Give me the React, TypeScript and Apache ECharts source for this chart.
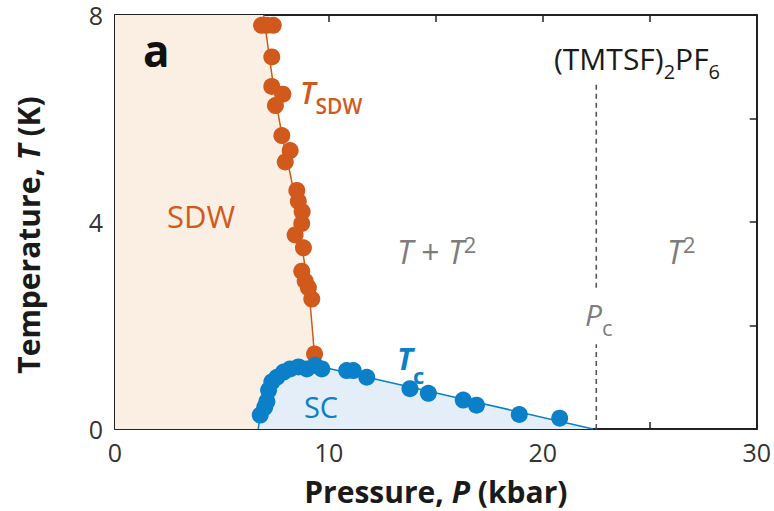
import React, { useEffect, useRef } from "react";
import * as echarts from "echarts";

// ---- data ----
const X_LABELED = [0, 10, 20, 30];
const Y_LABELED = [0, 4, 8];

// T_SDW measurements (pressure kbar, temperature K)
const TSDW_P = [6.85, 7.1, 7.4, 7.33, 7.33, 7.85, 7.5, 7.8, 8.19, 7.96, 8.5, 8.57, 8.75, 8.73, 8.42, 8.81, 8.73, 8.89, 9.04, 9.2, 9.33];
const TSDW_T = [7.8, 7.8, 7.8, 7.19, 6.62, 6.47, 6.25, 5.67, 5.38, 5.16, 4.61, 4.4, 4.2, 3.97, 3.75, 3.5, 3.05, 2.86, 2.73, 2.51, 1.45];

// T_SDW guide line
const TSDW_FIT_P = [6.95, 7.35, 7.8, 8.35, 8.75, 9.1, 9.35];
const TSDW_FIT_T = [8.0, 6.8, 5.7, 4.6, 3.5, 2.5, 1.3];

// Tc measurements
const TC_P = [6.79, 7.0, 7.1, 7.18, 7.33, 7.57, 7.88, 8.19, 8.58, 8.97, 9.36, 9.67, 10.83, 11.14, 11.77, 13.79, 14.65, 16.28, 16.9, 18.9, 20.79];
const TC_T = [0.27, 0.42, 0.53, 0.75, 0.91, 1.0, 1.1, 1.16, 1.2, 1.16, 1.23, 1.16, 1.13, 1.13, 1.0, 0.78, 0.69, 0.56, 0.46, 0.28, 0.21];

// Tc guide line (dome)
const TC_FIT_P = [6.7, 6.8, 7.0, 7.3, 7.7, 8.2, 8.8, 9.4, 10.0, 22.35];
const TC_FIT_T = [0, 0.3, 0.58, 0.83, 1.0, 1.12, 1.19, 1.2, 1.17, 0];

// critical pressure line, drawn in two pieces around the label
const PC = 22.5;
const PC_LOW_T = [0, 1.64];
const PC_HIGH_T = [2.73, 6.66];

const ORANGE = "#d2591c";
const BLUE = "#0b7fc7";
const GRAY = "#7d7d7d";
const FONT = "'Open Sans', 'Noto Sans', sans-serif";

export default function App() {
  const ref = useRef<HTMLDivElement>(null);
  useEffect(() => {
    if (!ref.current) return;
    const chart = echarts.init(ref.current, undefined, { renderer: "svg" });

    const zip = (a: number[], b: number[]) => a.map((v, i) => [v, b[i]]);
    const sdwRegion = [[0, TSDW_FIT_T[0]], ...zip(TSDW_FIT_P, TSDW_FIT_T)];

    const axisCommon = {
      min: 0,
      axisLine: { show: true, onZero: false, lineStyle: { color: "#222", width: 2 } },
      axisTick: { show: true, inside: true, length: 7, lineStyle: { color: "#222", width: 1.5 } },
      splitLine: { show: false },
    };

    const titleStyle = {
      fontSize: 30,
      fontWeight: "bold",
      color: "#1a1a1a",
      fontFamily: FONT,
      rich: { i: { fontSize: 30, fontWeight: "bold", fontStyle: "italic", color: "#1a1a1a", fontFamily: FONT } },
    };

    const option: any = {
      animation: false,
      grid: { left: 115, right: 17, top: 15, bottom: 79, containLabel: false },
      xAxis: [
        {
          ...axisCommon,
          type: "value",
          position: "bottom",
          max: 30,
          interval: 5,
          axisLabel: {
            margin: 13,
            color: "#333",
            fontSize: 25,
            lineHeight: 20,
            fontFamily: FONT,
            formatter: (v: number) => (X_LABELED.includes(v) ? String(v) : ""),
          },
          name: "Pressure, {i|P} (kbar)",
          nameLocation: "middle",
          nameGap: 47,
          nameTextStyle: titleStyle,
        },
        {
          ...axisCommon,
          type: "value",
          position: "top",
          max: 30,
          interval: 5,
          axisLabel: { show: false },
        },
      ],
      yAxis: [
        {
          ...axisCommon,
          type: "value",
          position: "left",
          max: 8,
          interval: 2,
          axisLabel: {
            margin: 12,
            color: "#333",
            fontSize: 25,
            lineHeight: 20,
            fontFamily: FONT,
            formatter: (v: number) => (Y_LABELED.includes(v) ? String(v) : ""),
          },
          name: "Temperature, {i|T} (K)",
          nameLocation: "middle",
          nameGap: 72,
          nameRotate: 90,
          nameTextStyle: { ...titleStyle, padding: [0, 26, 0, 0] },
        },
        {
          ...axisCommon,
          type: "value",
          position: "right",
          max: 8,
          interval: 2,
          axisLabel: { show: false },
        },
      ],
      series: [
        {
          type: "line",
          data: sdwRegion,
          symbol: "none",
          lineStyle: { width: 0, opacity: 0 },
          areaStyle: { color: "#fbefe4", opacity: 1 },
          z: 1,
          silent: true,
        },
        {
          type: "line",
          data: zip(TC_FIT_P, TC_FIT_T),
          symbol: "none",
          smooth: 0.25,
          lineStyle: { color: BLUE, width: 1.5 },
          areaStyle: { color: "#e3eef8", opacity: 1 },
          z: 2,
        },
        {
          type: "line",
          data: zip(TSDW_FIT_P, TSDW_FIT_T),
          symbol: "none",
          smooth: 0.2,
          lineStyle: { color: ORANGE, width: 1.5 },
          z: 3,
        },
        {
          type: "line",
          data: PC_LOW_T.map((t) => [PC, t]),
          symbol: "none",
          lineStyle: { color: "#555", width: 1.6, type: [5, 4] },
          z: 3,
        },
        {
          type: "line",
          data: PC_HIGH_T.map((t) => [PC, t]),
          symbol: "none",
          lineStyle: { color: "#555", width: 1.6, type: [5, 4] },
          z: 3,
        },
        {
          type: "scatter",
          data: zip(TSDW_P, TSDW_T),
          symbolSize: 17,
          itemStyle: { color: ORANGE, opacity: 1 },
          z: 5,
        },
        {
          type: "scatter",
          data: zip(TC_P, TC_T),
          symbolSize: 17,
          itemStyle: { color: BLUE, opacity: 1 },
          z: 5,
        },
      ],
      graphic: [
        {
          type: "text",
          x: 143,
          y: 50,
          z: 10,
          style: { text: "a", fill: "#111", fontSize: 44, fontWeight: "bold", fontFamily: FONT, verticalAlign: "middle" },
        },
        {
          type: "text",
          x: 300,
          y: 92,
          z: 10,
          style: {
            text: "{t|T}{s|SDW}",
            verticalAlign: "middle",
            rich: {
              t: { fontSize: 30, fontStyle: "italic", fontWeight: 600, fill: ORANGE, fontFamily: FONT, lineHeight: 49 },
              s: { fontSize: 21, fontWeight: 600, fill: ORANGE, fontFamily: FONT, lineHeight: 21, verticalAlign: "bottom" },
            },
          },
        },
        {
          type: "text",
          x: 201,
          y: 216,
          z: 10,
          style: { text: "SDW", fill: ORANGE, fontSize: 31, fontFamily: FONT, align: "center", verticalAlign: "middle" },
        },
        {
          type: "text",
          x: 397,
          y: 251,
          z: 10,
          style: {
            text: "{t|T}{n| + }{t|T}{p|2}",
            verticalAlign: "middle",
            rich: {
              t: { fontSize: 32, fontStyle: "italic", fill: GRAY, fontFamily: FONT, lineHeight: 36 },
              n: { fontSize: 32, fill: GRAY, fontFamily: FONT, lineHeight: 36 },
              p: { fontSize: 22, fill: GRAY, fontFamily: FONT, lineHeight: 22, verticalAlign: "top" },
            },
          },
        },
        {
          type: "text",
          x: 667,
          y: 251,
          z: 10,
          style: {
            text: "{t|T}{p|2}",
            verticalAlign: "middle",
            rich: {
              t: { fontSize: 32, fontStyle: "italic", fill: GRAY, fontFamily: FONT, lineHeight: 36 },
              p: { fontSize: 22, fill: GRAY, fontFamily: FONT, lineHeight: 22, verticalAlign: "top" },
            },
          },
        },
        {
          type: "text",
          x: 554,
          y: 58,
          z: 10,
          style: {
            text: "{a|(TMTSF)}{s|2}{a|PF}{s|6}",
            verticalAlign: "middle",
            rich: {
              a: { fontSize: 30, fill: "#1a1a1a", fontFamily: FONT, lineHeight: 46 },
              s: { fontSize: 20, fill: "#1a1a1a", fontFamily: FONT, lineHeight: 20, verticalAlign: "bottom" },
            },
          },
        },
        {
          type: "text",
          x: 585,
          y: 314,
          z: 10,
          style: {
            text: "{t|P}{s|c}",
            verticalAlign: "middle",
            rich: {
              t: { fontSize: 30, fontStyle: "italic", fill: GRAY, fontFamily: FONT, lineHeight: 48 },
              s: { fontSize: 22, fill: GRAY, fontFamily: FONT, lineHeight: 22, verticalAlign: "bottom" },
            },
          },
        },
        {
          type: "text",
          x: 397,
          y: 358,
          z: 10,
          style: {
            text: "{t|T}{s|c}",
            verticalAlign: "middle",
            rich: {
              t: { fontSize: 30, fontStyle: "italic", fontWeight: "bold", fill: BLUE, fontFamily: FONT, lineHeight: 56 },
              s: { fontSize: 22, fontWeight: "bold", fill: BLUE, fontFamily: FONT, lineHeight: 22, verticalAlign: "bottom" },
            },
          },
        },
        {
          type: "text",
          x: 321,
          y: 406,
          z: 10,
          style: { text: "SC", fill: BLUE, fontSize: 29, fontFamily: FONT, align: "center", verticalAlign: "middle" },
        },
      ],
    };

    chart.setOption(option);
    return () => chart.dispose();
  }, []);

  return <div ref={ref} style={{ width: 774, height: 511, position: "absolute", left: 0, top: 0 }} />;
}
